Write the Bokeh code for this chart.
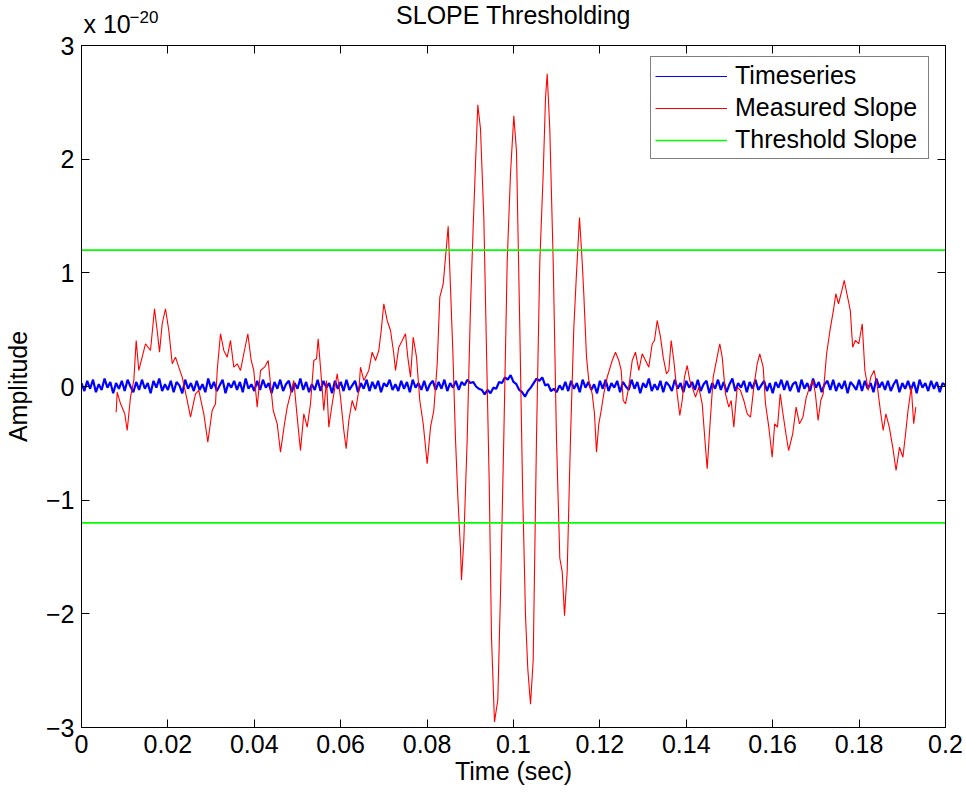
from bokeh.plotting import figure
from bokeh.models import Range1d, LinearAxis, FixedTicker, Title
from bokeh.embed import file_html
from bokeh.resources import INLINE
import numpy as np

# ---------------- data ----------------
title_text = "SLOPE Thresholding"
x_label = "Time (sec)"
y_label = "Amplitude"
exponent_base = "x 10"
exponent_power = "\u221220"

x_ticks = [0, 0.02, 0.04, 0.06, 0.08, 0.1, 0.12, 0.14, 0.16, 0.18, 0.2]
x_tick_labels = ["0", "0.02", "0.04", "0.06", "0.08", "0.1", "0.12", "0.14", "0.16", "0.18", "0.2"]
y_ticks = [-3, -2, -1, 0, 1, 2, 3]
y_tick_labels = ["\u22123", "\u22122", "\u22121", "0", "1", "2", "3"]

threshold = 1.2  # x 10^-20

# Timeseries (x 10^-20), evenly sampled from 0 to 0.2 s
blue_y = [
    0.03, -0.04, 0.05, -0.02, 0.06, -0.05, 0.02, -0.03, 0.07, -0.01, 0.04, -0.06, 0.03, -0.02, 0.05, -0.04, 0.06, 0.00, -0.05, 0.04,
    -0.03, 0.06, -0.02, 0.03, -0.06, 0.05, -0.01, 0.07, -0.04, 0.02, -0.03, 0.05, -0.05, 0.04, 0.01, -0.06, 0.06, -0.02, 0.03, -0.04,
    0.05, -0.03, 0.02, -0.05, 0.07, -0.02, 0.04, -0.04, 0.01, 0.06, -0.06, 0.03, -0.01, 0.05, -0.03, 0.04, -0.05, 0.07, -0.02, 0.02,
    -0.04, 0.05, -0.03, 0.06, -0.01, 0.03, -0.06, 0.04, -0.02, 0.06, -0.04, 0.02, 0.05, -0.05, 0.03, -0.02, 0.07, -0.03, 0.04, -0.05,
    0.02, -0.03, 0.06, -0.04, 0.05, -0.01, 0.03, -0.06, 0.05, -0.02, 0.04, -0.04, 0.06, -0.03, 0.01, 0.05, -0.05, 0.03, -0.02, 0.06,
    -0.04, 0.04, -0.02, 0.05, -0.05, 0.03, 0.00, 0.06, -0.03, 0.02, -0.04, 0.05, -0.02, 0.04, -0.05, 0.06, -0.01, 0.03, -0.03, 0.05,
    -0.04, 0.02, 0.05, -0.03, 0.04, -0.02, 0.06, -0.04, 0.03, -0.01, 0.05, -0.03, 0.04, 0.01, 0.06, 0.03, 0.04, 0.00, -0.02, -0.03,
    -0.07, -0.03, -0.06, -0.01, -0.02, 0.04, 0.03, 0.08, 0.06, 0.10, 0.04, 0.02, -0.03, -0.05, -0.09, -0.04, -0.01, 0.03, 0.07, 0.05,
    0.08, 0.01, 0.02, -0.04, -0.02, -0.05, 0.01, -0.03, 0.04, -0.04, 0.05, -0.02, 0.03, -0.05, 0.06, -0.01, 0.04, -0.03, 0.02, -0.06,
    0.05, -0.02, 0.06, -0.04, 0.03, -0.01, 0.05, -0.05, 0.04, 0.00, -0.03, 0.06, -0.02, 0.04, -0.06, 0.03, -0.01, 0.07, -0.04, 0.02,
    -0.03, 0.05, -0.05, 0.04, 0.01, -0.04, 0.06, -0.02, 0.03, -0.05, 0.05, -0.01, 0.04, -0.03, 0.06, -0.04, 0.02, 0.05, -0.06, 0.03,
    -0.02, 0.06, -0.03, 0.04, -0.05, 0.02, 0.07, -0.04, 0.03, -0.01, 0.05, -0.05, 0.04, -0.02, 0.06, -0.03, 0.01, 0.05, -0.04, 0.03,
    -0.06, 0.04, -0.01, 0.06, -0.03, 0.05, -0.04, 0.02, 0.04, -0.05, 0.06, -0.02, 0.03, -0.04, 0.07, -0.01, 0.04, -0.05, 0.02, 0.05,
    -0.03, 0.06, -0.04, 0.03, -0.02, 0.05, -0.06, 0.04, 0.01, -0.03, 0.06, -0.04, 0.05, -0.02, 0.03, -0.05, 0.07, -0.01, 0.04, -0.03,
    0.05, -0.04, 0.02, 0.06, -0.05, 0.03, -0.02, 0.05, -0.03, 0.04, -0.06, 0.06, -0.01, 0.03, -0.04, 0.05, -0.02, 0.04, -0.05, 0.03,
    0.01,
]
blue_t_start = 0.0
blue_t_end = 0.2

# Measured slope (x 10^-20)
red_t = [
    0.00803, 0.00826, 0.00903, 0.01002, 0.01058, 0.01134, 0.01211, 0.01266, 0.01326, 0.01405,
    0.01481, 0.01597, 0.01690, 0.01752, 0.01806, 0.01868, 0.01944, 0.02021, 0.02100, 0.02176,
    0.02252, 0.02331, 0.02447, 0.02523, 0.02639, 0.02715, 0.02831, 0.02924, 0.03025, 0.03102,
    0.03141, 0.03218, 0.03294, 0.03373, 0.03449, 0.03525, 0.03604, 0.03681, 0.03757, 0.03850,
    0.03928, 0.03988, 0.04067, 0.04144, 0.04236, 0.04322, 0.04375, 0.04438, 0.04530, 0.04606,
    0.04699, 0.04762, 0.04838, 0.04914, 0.04993, 0.05069, 0.05146, 0.05225, 0.05301, 0.05377,
    0.05440, 0.05479, 0.05532, 0.05609, 0.05671, 0.05725, 0.05803, 0.05919, 0.05995, 0.06072,
    0.06127, 0.06188, 0.06266, 0.06343, 0.06419, 0.06458, 0.06535, 0.06650, 0.06729, 0.06806,
    0.06882, 0.06938, 0.06998, 0.07076, 0.07153, 0.07229, 0.07269, 0.07345, 0.07424, 0.07500,
    0.07553, 0.07616, 0.07678, 0.07755, 0.07831, 0.07910, 0.08002, 0.08079, 0.08155, 0.08234,
    0.08294, 0.08373, 0.08426, 0.08488, 0.08542, 0.08595, 0.08657, 0.08711, 0.08773, 0.08796,
    0.08850, 0.08928, 0.09005, 0.09067, 0.09120, 0.09174, 0.09236, 0.09313, 0.09375, 0.09438,
    0.09491, 0.09560, 0.09637, 0.09699, 0.09775, 0.09854, 0.09931, 0.10007, 0.10069, 0.10146,
    0.10208, 0.10278, 0.10331, 0.10394, 0.10456, 0.10532, 0.10609, 0.10688, 0.10741, 0.10780,
    0.10840, 0.10919, 0.10995, 0.11072, 0.11127, 0.11181, 0.11243, 0.11319, 0.11396, 0.11451,
    0.11528, 0.11590, 0.11627, 0.11690, 0.11743, 0.11822, 0.11875, 0.11921, 0.11975, 0.12030,
    0.12090, 0.12169, 0.12285, 0.12361, 0.12437, 0.12493, 0.12539, 0.12593, 0.12669, 0.12748,
    0.12824, 0.12901, 0.12979, 0.13056, 0.13132, 0.13211, 0.13264, 0.13326, 0.13403, 0.13465,
    0.13542, 0.13595, 0.13650, 0.13711, 0.13789, 0.13850, 0.13905, 0.13958, 0.14021, 0.14081,
    0.14137, 0.14213, 0.14289, 0.14368, 0.14444, 0.14484, 0.14544, 0.14623, 0.14699, 0.14775,
    0.14831, 0.14907, 0.14984, 0.15039, 0.15100, 0.15178, 0.15255, 0.15331, 0.15410, 0.15486,
    0.15563, 0.15641, 0.15701, 0.15780, 0.15833, 0.15910, 0.15988, 0.16046, 0.16111, 0.16174,
    0.16227, 0.16306, 0.16368, 0.16463, 0.16542, 0.16620, 0.16699, 0.16778, 0.16856, 0.16933,
    0.16988, 0.17051, 0.17113, 0.17169, 0.17248, 0.17326, 0.17405, 0.17461, 0.17523, 0.17602,
    0.17655, 0.17718, 0.17796, 0.17852, 0.17914, 0.17993, 0.18072, 0.18134, 0.18213, 0.18269,
    0.18347, 0.18424, 0.18502, 0.18558, 0.18620, 0.18699, 0.18778, 0.18856, 0.18935, 0.19014,
    0.19076, 0.19132, 0.19208, 0.19264, 0.19313,
]
red_y = [
    -0.226, -0.050, -0.150, -0.240, -0.387, -0.094, 0.053, 0.405, 0.141, 0.258,
    0.376, 0.317, 0.684, 0.493, 0.302, 0.552, 0.684, 0.493, 0.200, 0.258,
    0.170, 0.082, -0.123, -0.270, -0.064, -0.035, -0.240, -0.490, -0.211, -0.152,
    0.141, 0.464, 0.317, 0.258, 0.405, 0.170, 0.200, 0.141, 0.288, 0.464,
    0.229, 0.141, -0.182, 0.141, 0.170, 0.229, 0.024, -0.211, -0.328, -0.578,
    -0.328, -0.182, -0.064, 0.053, -0.270, -0.563, -0.240, -0.358, -0.152, 0.229,
    0.244, 0.420, 0.170, -0.211, 0.053, -0.358, -0.152, 0.112, -0.094, -0.387,
    -0.548, -0.299, -0.123, -0.211, -0.035, 0.170, 0.053, 0.141, 0.302, 0.229,
    0.317, 0.493, 0.728, 0.581, 0.493, 0.288, 0.141, 0.346, 0.405, 0.464,
    0.258, 0.082, 0.434, 0.258, -0.123, -0.328, -0.680, -0.358, -0.211, 0.200,
    0.786, 0.903, 1.137, 1.409, 0.864, 0.319, -0.459, -0.966, -1.432, -1.705,
    -1.355, -0.459, 0.708, 1.409, 1.954, 2.479, 2.265, 1.487, 0.319, -0.849,
    -2.211, -2.951, -2.756, -1.822, -0.459, 1.098, 1.877, 2.382, 2.071, 0.514,
    -0.849, -2.016, -2.484, -2.795, -2.406, -0.459, 1.098, 1.877, 2.538, 2.752,
    2.265, 1.098, -0.459, -1.511, -1.628, -2.016, -1.628, -0.459, 0.514, 0.942,
    1.487, 1.098, 0.816, 0.258, 0.053, -0.064, -0.240, -0.578, -0.328, -0.211,
    -0.064, 0.082, 0.229, 0.302, 0.229, 0.141, -0.123, -0.152, -0.006, 0.229,
    0.302, 0.141, 0.288, 0.229, 0.170, 0.376, 0.405, 0.581, 0.434, 0.258,
    0.112, 0.141, 0.405, 0.229, -0.064, -0.255, -0.123, 0.082, 0.185, 0.053,
    -0.006, -0.094, -0.006, -0.152, -0.534, -0.724, -0.358, 0.082, 0.229, 0.376,
    0.258, -0.064, -0.182, -0.123, -0.358, -0.006, -0.035, -0.123, -0.240, -0.270,
    -0.006, 0.200, 0.288, 0.170, -0.152, -0.358, -0.622, -0.328, -0.358, -0.064,
    -0.211, -0.416, -0.563, -0.416, -0.182, -0.328, -0.270, -0.094, -0.006, 0.053,
    -0.064, -0.299, -0.123, -0.064, 0.288, 0.493, 0.669, 0.816, 0.728, 0.845,
    0.933, 0.816, 0.669, 0.346, 0.405, 0.376, 0.552, 0.141, -0.035, 0.082,
    0.141, -0.006, -0.240, -0.387, -0.240, -0.358, -0.534, -0.739, -0.534, -0.622,
    -0.416, -0.211, -0.006, -0.328, -0.182,
]

series_names = ["Timeseries", "Measured Slope", "Threshold Slope"]
series_colors = ["#0000ff", "#ff0000", "#00ff00"]

# ---------------- plot ----------------
FONT = "Liberation Sans"
FS = "25px"

blue_t = np.linspace(blue_t_start, blue_t_end, len(blue_y))

p = figure(
    width=966, height=794,
    x_range=Range1d(x_ticks[0], x_ticks[-1]),
    y_range=Range1d(y_ticks[0], y_ticks[-1]),
    output_backend="svg", toolbar_location=None,
    min_border_left=81, min_border_right=21, min_border_top=45, min_border_bottom=67,
    background_fill_color="white", border_fill_color="white",
    outline_line_color="black", outline_line_width=1,
)
p.grid.visible = False

x_over = {float(t): s for t, s in zip(x_ticks, x_tick_labels)}
y_over = {int(t): s for t, s in zip(y_ticks, y_tick_labels)}


def style_axis(ax, ticks, overrides, show):
    ax.ticker = FixedTicker(ticks=ticks)
    ax.major_tick_in = 8
    ax.major_tick_out = 0
    ax.minor_tick_in = 0
    ax.minor_tick_out = 0
    ax.axis_line_color = "black"
    ax.axis_line_width = 1
    ax.major_tick_line_color = "black"
    ax.major_tick_line_width = 1
    ax.major_label_text_font = FONT
    if show:
        ax.major_label_text_color = "black"
        ax.major_label_text_font_size = FS
        ax.major_label_overrides = overrides
    else:
        ax.major_label_text_color = None
        ax.major_label_text_font_size = "0px"
        ax.major_label_standoff = 0


xa = p.xaxis[0]
ya = p.yaxis[0]
style_axis(xa, x_ticks, x_over, True)
style_axis(ya, y_ticks, y_over, True)
xa.major_label_standoff = 7
ya.major_label_standoff = 7
xa.axis_label = x_label
ya.axis_label = y_label
for ax in (xa, ya):
    ax.axis_label_text_font = FONT
    ax.axis_label_text_font_size = FS
    ax.axis_label_text_font_style = "normal"
    ax.axis_label_text_color = "black"
xa.axis_label_standoff = 1
ya.axis_label_standoff = 11

top = LinearAxis()
right = LinearAxis()
style_axis(top, x_ticks, x_over, False)
style_axis(right, y_ticks, y_over, False)
p.add_layout(top, "above")
p.add_layout(right, "right")

# exponent "x 10^-20" above the top-left corner, then the title (outermost)
exp_base = Title(text=exponent_base, align="left", offset=2, vertical_align="bottom", standoff=15,
                 text_font=FONT, text_font_size=FS, text_font_style="normal", text_color="black")
exp_pow = Title(text=exponent_power, align="left", offset=48, vertical_align="bottom", standoff=-45,
                text_font=FONT, text_font_size="17px", text_font_style="normal", text_color="black")
p.add_layout(exp_base, "above")
p.add_layout(exp_pow, "above")

p.title.text = title_text
p.title.text_font = FONT
p.title.text_font_size = FS
p.title.text_font_style = "normal"
p.title.text_color = "black"
p.title.align = "center"
p.title.vertical_align = "bottom"
p.title.standoff = -56

# thin legend swatch for the timeseries (a single sample, draws no segment), then the data lines
p.line([blue_t[0]], [blue_y[0]], line_color=series_colors[0], line_width=1.2, legend_label=series_names[0])
p.line(blue_t, blue_y, line_color=series_colors[0], line_width=2.2)
p.line(red_t, red_y, line_color=series_colors[1], line_width=1.1, legend_label=series_names[1])
p.line([blue_t[0], blue_t[-1]], [threshold, threshold], line_color=series_colors[2], line_width=1.6,
       legend_label=series_names[2])
p.line([blue_t[0], blue_t[-1]], [-threshold, -threshold], line_color=series_colors[2], line_width=1.6)

leg = p.legend[0]
leg.location = (569, 568)
leg.margin = 0
leg.padding = 4
leg.spacing = 3
leg.glyph_width = 72
leg.glyph_height = 20
leg.label_height = 20
leg.label_width = 189
leg.label_standoff = 8
leg.label_text_font = FONT
leg.label_text_font_size = FS
leg.label_text_color = "black"
leg.border_line_color = "black"
leg.border_line_width = 1
leg.background_fill_color = "white"
leg.background_fill_alpha = 1

open("out.html", "w").write(file_html(p, INLINE))
